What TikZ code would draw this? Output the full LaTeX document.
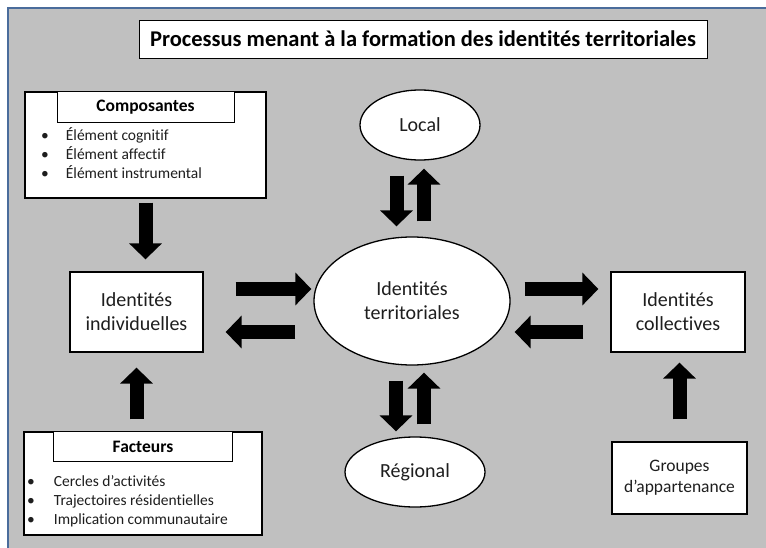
\documentclass[tikz,border=0pt]{standalone}
\usepackage{fontspec}
\setmainfont{Carlito}[Ligatures=NoCommon]
\usetikzlibrary{arrows.meta,shapes.geometric}

\definecolor{bggray}{RGB}{192,192,192}
\definecolor{frameblue}{RGB}{74,108,155}
\definecolor{inkgray}{RGB}{30,30,30}

\tikzset{
  box/.style={draw=black, fill=white, line width=1.3pt, align=center, inner sep=0pt,
    text=inkgray, font=\fontsize{20}{24}\selectfont},
  headbox/.style={draw=black, fill=white, line width=0.8pt, inner sep=0pt,
    text=black, font=\bfseries\fontsize{17.5}{21}\selectfont},
  ell/.style={ellipse, draw=black, fill=white, line width=1.3pt, align=center, inner sep=0pt,
    text=inkgray, font=\fontsize{20}{24}\selectfont},
  items/.style={anchor=north west, inner sep=0pt, align=left, text=inkgray,
    font=\fontsize{15.5}{19}\selectfont},
  bigarrow/.style={line width=14pt, -{Triangle[width=32pt,length=16pt]}}
}

\newcommand{\bul}{\textbullet}

\begin{document}
\begin{tikzpicture}[x=1pt, y=-1pt]
  \useasboundingbox (0,0) rectangle (766,548);
  % frame
  \fill[white] (0,0) rectangle (766,548);
  \draw[fill=bggray, draw=frameblue, line width=2pt] (8,8) rectangle (772,554);

  % title
  \node[draw, fill=white, line width=0.8pt, minimum width=568pt, minimum height=38pt,
    font=\bfseries\fontsize{22.5}{26}\selectfont] (title) at (423,39)
    {Processus menant à la formation des identités territoriales};

  % centre and places
  \node[ell, minimum width=196pt, minimum height=128pt] (terr) at (412,301) {Identités\\territoriales};
  \node[ell, minimum width=120pt, minimum height=70pt] (local) at (420,125) {Local};
  \node[ell, minimum width=140pt, minimum height=70pt] (reg) at (415,472) {Régional};

  % identity boxes
  \node[box, minimum width=133pt, minimum height=80pt] (ind) at (136.5,312) {Identités\\individuelles};
  \node[box, minimum width=134pt, minimum height=80pt] (coll) at (678,312) {Identités\\collectives};
  \node[box, minimum width=135pt, minimum height=72pt,
    font=\fontsize{17.5}{21}\selectfont] (grp) at (679.5,478) {Groupes\\d’appartenance};

  % composantes
  \node[box, minimum width=241pt, minimum height=106pt] (comp) at (145.5,145) {};
  \node[headbox, minimum width=177pt, minimum height=31pt, anchor=north] (comphead)
    at (comp.north) {Composantes};
  \node[items] (complist) at (41,127) {%
    \begin{tabular}{@{}l@{\hspace{17pt}}l@{}}
      \bul & Élément cognitif\\
      \bul & Élément affectif\\
      \bul & Élément instrumental
    \end{tabular}};

  % facteurs
  \node[box, minimum width=238pt, minimum height=103pt] (fact) at (143,483.5) {};
  \node[headbox, minimum width=179pt, minimum height=30pt, anchor=north] (facthead)
    at (fact.north) {Facteurs};
  \node[items] (factlist) at (27,473) {%
    \begin{tabular}{@{}l@{\hspace{19pt}}l@{}}
      \bul & Cercles d’activités\\
      \bul & Trajectoires résidentielles\\
      \bul & Implication communautaire
    \end{tabular}};

  % vertical arrows
  \draw[bigarrow, shorten <=4pt, shorten >=12pt] (comp.south) -- (comp.south |- ind.north);
  \draw[bigarrow, shorten <=12pt, shorten >=15pt] (ind.south |- fact.north) -- (ind.south);
  \draw[bigarrow, shorten <=22pt, shorten >=10pt] (grp.north) -- (grp.north |- coll.south);

  % local and regional
  \draw[bigarrow, shorten <=15pt, shorten >=10pt] ([xshift=-23.5pt]local.south) -- ([xshift=-23.5pt]local.south |- terr.north);
  \draw[bigarrow, shorten <=15pt, shorten >=8pt] ([xshift=4pt]local.south |- terr.north) -- ([xshift=4pt]local.south);
  \draw[bigarrow, shorten <=15pt, shorten >=5pt] ([xshift=-16pt]terr.south) -- ([xshift=-16pt]terr.south |- reg.north);
  \draw[bigarrow, shorten <=12pt, shorten >=7pt] ([xshift=12pt]terr.south |- reg.north) -- ([xshift=12pt]terr.south);

  % horizontal arrows
  \draw[bigarrow, shorten <=32pt, shorten >=2pt] ([yshift=23pt]ind.east) -- ([yshift=23pt]ind.east -| terr.west);
  \draw[bigarrow, shorten <=18pt, shorten >=22pt] ([yshift=-20pt]ind.east -| terr.west) -- ([yshift=-20pt]ind.east);
  \draw[bigarrow, shorten <=14pt, shorten >=12pt] ([yshift=23pt]coll.west -| terr.east) -- ([yshift=23pt]coll.west);
  \draw[bigarrow, shorten <=27pt, shorten >=4pt] ([yshift=-20pt]coll.west) -- ([yshift=-20pt]coll.west -| terr.east);
\end{tikzpicture}
\end{document}
